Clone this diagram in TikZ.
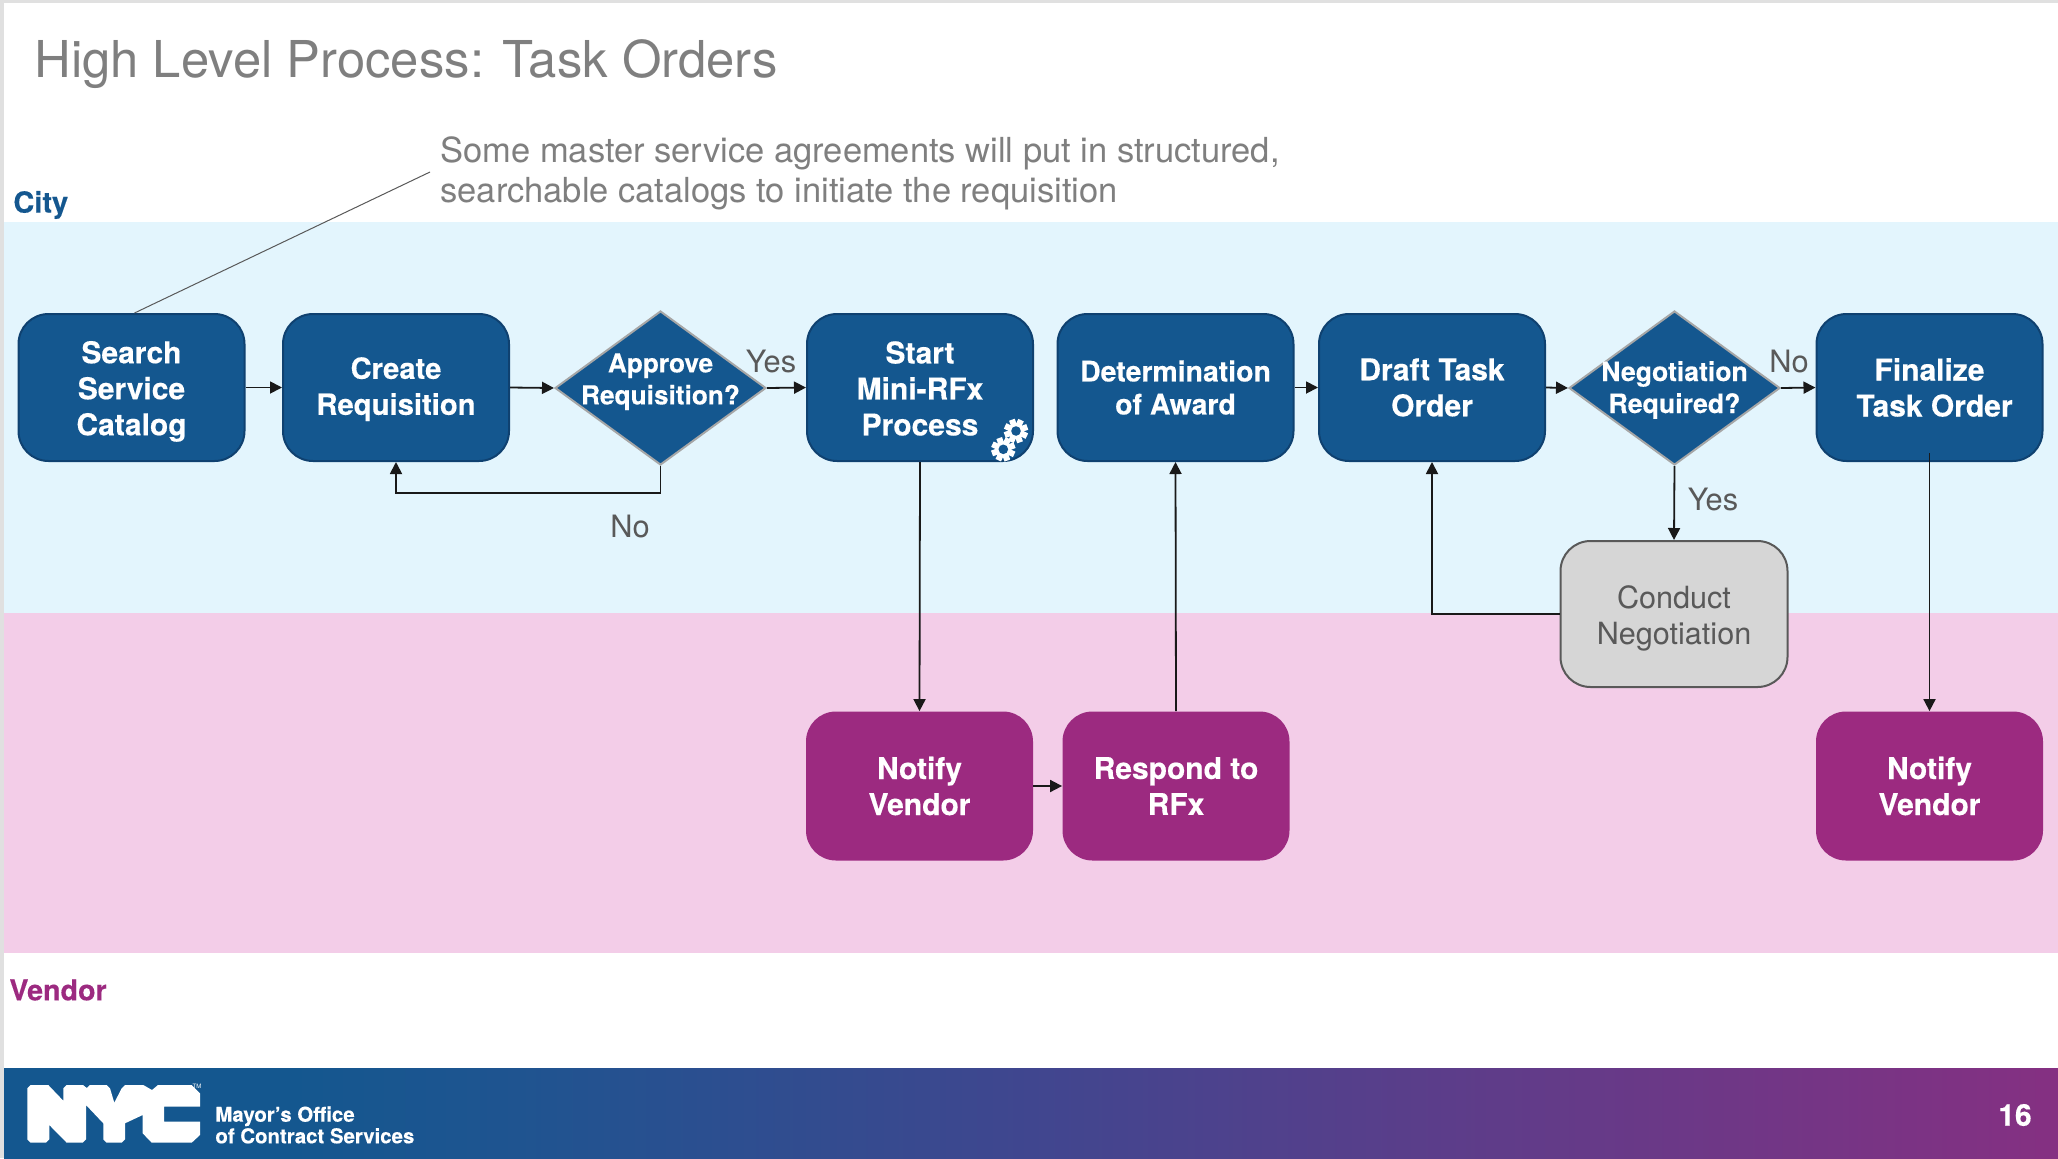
\documentclass[tikz,border=0pt]{standalone}
\usepackage{fontspec}
\setmainfont[BoldFeatures={FakeBold=0.3}]{TeX Gyre Heros}
\usetikzlibrary{arrows.meta,shapes.geometric}
\definecolor{cityblue}{HTML}{14578F}
\definecolor{cityedge}{HTML}{0F4170}
\definecolor{citybg}{HTML}{E3F5FD}
\definecolor{vendorpurple}{HTML}{9C2A80}
\definecolor{vendorbg}{HTML}{F3CDE8}
\definecolor{footerstep}{HTML}{1F5490}
\definecolor{footermid}{HTML}{40468F}
\definecolor{footerend}{HTML}{853082}
\definecolor{greybox}{HTML}{D6D6D6}
\definecolor{greytext}{HTML}{595959}
\definecolor{titlegrey}{HTML}{7F7F7F}
\pgfdeclarehorizontalshading{footerfade}{100bp}{color(0bp)=(cityblue); color(32bp)=(cityblue); color(37.5bp)=(footerstep); color(50bp)=(footermid); color(75bp)=(footerend); color(100bp)=(footerend)}
\tikzset{
	boxlabel/.style={font=\bfseries\fontsize{15}{18}\selectfont,text=white,align=center,inner sep=0pt},
	taskbox/.style={boxlabel,draw=cityedge,line width=1pt,fill=cityblue,rounded corners=15pt,minimum width=113pt,minimum height=73.5pt},
	vendorbox/.style={boxlabel,fill=vendorpurple,rounded corners=15pt,minimum width=113.5pt,minimum height=74.5pt},
	greyboxnode/.style={draw=greytext,line width=1pt,fill=greybox,rounded corners=15pt,minimum width=113.5pt,minimum height=73pt,text=greytext,align=center,inner sep=0pt,font=\fontsize{15.3}{18}\selectfont},
	decision/.style={diamond,draw=black!35,line width=1pt,fill=cityblue,text=white,inner sep=0pt,minimum width=105.5pt,minimum height=77pt,font=\bfseries\fontsize{13.3}{16}\selectfont},
	flow/.style={-{Triangle[length=6pt,width=6pt]},line width=0.9pt,color=black!90},
	yesno/.style={text=greytext,inner sep=0pt,font=\fontsize{15.4}{18}\selectfont},
	gear/.pic={
		\fill[white] (0,0) circle (8);
		\foreach \a in {0,45,...,315}
			\fill[white,rotate=\a+20] (6,-3) rectangle (12,3);
		\fill[cityblue] (0,0) circle (4.8);
	}
}
% diamond text: no size of its own, so the diamond keeps its minimum size
\newcommand{\dlabel}[3]{\makebox[0pt]{\raisebox{#1}[0pt][0pt]{\begin{tabular}{@{}c@{}}#2\\#3\end{tabular}}}}
\newcommand{\dropfirst}[1]{\rule{0pt}{#1}}
\begin{document}
\begin{tikzpicture}[x=0.5pt,y=0.5pt,yscale=-1,xscale=1]
	\useasboundingbox (0,0) rectangle (2058,1158);
	%Shape: page edge and bands
	\fill [white] (0,0) rectangle (2058,1158);
	\fill [black!12] (0,0) rectangle (2058,3);
	\fill [black!12] (0,0) rectangle (4,1158);
	\fill [citybg] (4,222) rectangle (2058,613);
	\fill [vendorbg] (4,613) rectangle (2058,953);
	\shade [shading=footerfade] (4,1068) rectangle (2058,1158);

	%Shape: logo
	\fill [white] (27.3,1088.3) -- (30.7,1085) -- (48.3,1085) -- (63.3,1100.7) -- (63.3,1088.3) -- (66.7,1085) -- (83,1085) -- (86.7,1088) -- (90,1085) -- (106.7,1085) -- (110,1088.3) -- (114.3,1102.7) -- (121.7,1088.3) -- (125,1085) -- (143.3,1085) -- (152,1090) -- (158,1085) -- (191.7,1085) -- (200,1093.3) -- (200,1106.7) -- (164,1106.7) -- (164,1121.7) -- (200,1121.7) -- (200,1135) -- (191.7,1142.7) -- (151.7,1142.7) -- (142.7,1133.3) -- (142.7,1115) -- (125,1123.3) -- (125,1139.3) -- (121.7,1142.7) -- (106.7,1142.7) -- (103.3,1139.3) -- (103.3,1123.3) -- (86,1105) -- (86,1139.3) -- (82.7,1142.7) -- (66.7,1142.7) -- (49.3,1125) -- (49.3,1139.3) -- (46,1142.7) -- (30.7,1142.7) -- (27.3,1139.3) -- cycle;
	% Text Node
	\node (trademark) [inner sep=0pt,text=white,font=\fontsize{3}{3}\selectfont] at (197,1086.5) {TM};

	% Text Node
	\node (title) [anchor=west,inner sep=0pt,text=titlegrey,font=\fontsize{25.4}{30}\selectfont] at (34,64) {High Level Process: Task Orders};
	% Text Node
	\node (note) [anchor=west,inner sep=0pt,text=titlegrey,align=left,font=\fontsize{17.25}{20}\selectfont] at (440,173) {Some master service agreements will put in structured,\\searchable catalogs to initiate the requisition};
	% Text Node
	\node (citylabel) [anchor=west,inner sep=0pt,text=cityblue,font=\bfseries\fontsize{14.5}{17}\selectfont] at (13,205) {City};
	% Text Node
	\node (vendorlabel) [anchor=west,inner sep=0pt,text=vendorpurple,font=\bfseries\fontsize{14.3}{17}\selectfont] at (9,990) {Vendor};
	% Text Node
	\node (office) [anchor=west,inner sep=0pt,text=white,align=left,font=\bfseries\fontsize{10.2}{10.8}\selectfont] at (215,1125) {Mayor's Office\\of Contract Services};
	% Text Node
	\node (pagenum) [inner sep=0pt,text=white,font=\bfseries\fontsize{15}{18}\selectfont] at (2015,1115) {16};

	%Shape: city row
	\node (search) [taskbox] at (131.5,387.5) {\dropfirst{15pt}Search\\Service\\Catalog};
	\node (create) [taskbox,font=\bfseries\fontsize{14.6}{18}\selectfont] at (396,387.5) {\dropfirst{12.5pt}Create\\Requisition};
	\node (approve) [decision,font=\bfseries\fontsize{13.1}{16}\selectfont] at (660.5,388) {\dlabel{0pt}{Approve}{Requisition?}};
	\node (start) [taskbox] at (920,387.5) {\dropfirst{12.1pt}Start\\Mini-RFx\\Process};
	\node (award) [taskbox,minimum width=118pt,font=\bfseries\fontsize{14.2}{16.5}\selectfont] at (1175.5,387.5) {Determination\\of Award};
	\node (draft) [taskbox] at (1432,387.5) {Draft Task\\Order};
	\node (negotiate) [decision] at (1674.5,388) {\dlabel{-4.9pt}{Negotiation}{Required?}};
	\node (finalize) [taskbox] at (1929.5,387.5) {Finalize\\\hspace*{5pt}Task Order};
	\node (conduct) [greyboxnode] at (1674,614) {\dropfirst{16.2pt}Conduct\\Negotiation};

	%Shape: vendor row
	\node (notifya) [vendorbox] at (919.5,786) {Notify\\Vendor};
	\node (respond) [vendorbox] at (1176,786) {Respond to\\RFx};
	\node (notifyb) [vendorbox] at (1929.5,786) {Notify\\Vendor};

	%Shape: gears
	\pic at (1016,431) {gear};
	\pic at (1003.3,449.3) {gear};

	% Text Node
	\node (yesa) [yesno] at (771,361) {Yes};
	\node (noa) [yesno] at (630,526) {No};
	\node (nob) [yesno] at (1789,361) {No};
	\node (yesb) [yesno] at (1713,499) {Yes};

	\coordinate (noteend) at (430,172);
	\coordinate (finalizestart) at (1929.5,453);

	%Straight Lines
	\draw [color=greytext,line width=0.5pt] ([xshift=1.5pt]search.north) -- (noteend);
	\draw [flow] (search.east) -- (create.west);
	\draw [flow] (create.east) -- (approve.west);
	\draw [flow] (approve.east) -- (start.west);
	\draw [flow] (approve.south) -- ++(0,27) -| (create.south);
	\draw [flow] (start.south) -- (notifya.north);
	\draw [flow] (notifya.east) -- (respond.west);
	\draw [flow] (respond.north) -- (award.south);
	\draw [flow] (award.east) -- (draft.west);
	\draw [flow] (draft.east) -- (negotiate.west);
	\draw [flow] (negotiate.east) -- (finalize.west);
	\draw [flow] (negotiate.south) -- (conduct.north);
	\draw [flow] (conduct.west) -| (draft.south);
	\draw [flow] (finalizestart) -- (notifyb.north);
\end{tikzpicture}
\end{document}
